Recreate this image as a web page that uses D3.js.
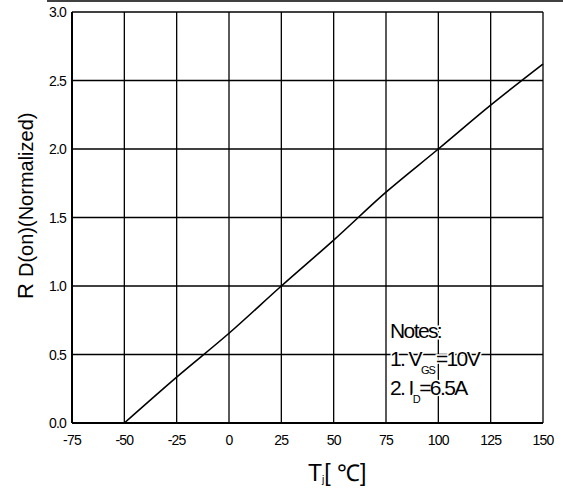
<!DOCTYPE html>
<html><head><meta charset="utf-8">
<script src="https://cdn.jsdelivr.net/npm/d3@7"></script>
<style>body{margin:0;background:#fff}svg{display:block;font-family:"Liberation Sans",Arial,sans-serif}</style>
</head><body>
<script>
const tempC = [-50, -25, 0, 25, 50, 75, 100, 125, 150];
const rdsNorm = [0.0, 0.335, 0.655, 1.0, 1.335, 1.685, 2.0, 2.32, 2.62];
const xTicks = [-75, -50, -25, 0, 25, 50, 75, 100, 125, 150];
const yTicks = [0.0, 0.5, 1.0, 1.5, 2.0, 2.5, 3.0];

const W = 563, H = 489;
const svg = d3.select("body").append("svg").attr("width", W).attr("height", H);
const x = d3.scaleLinear().domain([-75, 150]).range([72, 543]);
const y = d3.scaleLinear().domain([0, 3]).range([423, 12]);

// top border line
svg.append("line").attr("x1", 47).attr("x2", W).attr("y1", 1).attr("y2", 1)
  .attr("stroke", "#000").attr("stroke-width", 1.5);

// grid
const g = svg.append("g");
g.selectAll(".vx").data(xTicks).join("line")
  .attr("x1", d => x(d)).attr("x2", d => x(d)).attr("y1", y(3)).attr("y2", y(0))
  .attr("stroke", "#000").attr("stroke-width", 1.3);
g.selectAll(".hy").data(yTicks).join("line")
  .attr("x1", x(-75)).attr("x2", x(150)).attr("y1", d => y(d)).attr("y2", d => y(d))
  .attr("stroke", "#000").attr("stroke-width", 1.3);
svg.append("line").attr("x1", x(-75)).attr("x2", x(-75)).attr("y1", y(3)).attr("y2", y(0)).attr("stroke", "#000").attr("stroke-width", 2);
svg.append("line").attr("x1", x(-75)).attr("x2", x(150)).attr("y1", y(0)).attr("y2", y(0)).attr("stroke", "#000").attr("stroke-width", 2);

// tick labels
svg.selectAll(".xl").data(xTicks).join("text")
  .attr("x", d => x(d)).attr("y", 445).attr("text-anchor", "middle")
  .attr("font-size", 14).attr("letter-spacing", -0.8).text(d => d);
svg.selectAll(".yl").data(yTicks).join("text")
  .attr("x", 66).attr("y", d => y(d) + 5).attr("text-anchor", "end")
  .attr("font-size", 14).attr("letter-spacing", -0.8).text(d => d.toFixed(1));

// curve
svg.append("path").datum(tempC.map((t, i) => [t, rdsNorm[i]]))
  .attr("d", d3.line().x(d => x(d[0])).y(d => y(d[1])).curve(d3.curveMonotoneX))
  .attr("fill", "none").attr("stroke", "#000").attr("stroke-width", 1.6);

// notes
const notes = svg.append("g").attr("font-size", 21).attr("letter-spacing", -1.6)
  .attr("stroke", "#fff").attr("stroke-width", 3).attr("paint-order", "stroke").attr("fill", "#000");
notes.append("text").attr("x", 390).attr("y", 338).text("Notes:");
const n1 = notes.append("text").attr("x", 390).attr("y", 366);
n1.append("tspan").text("1. V");
n1.append("tspan").attr("font-size", 11).attr("letter-spacing", -1).attr("dy", 8).text("GS");
n1.append("tspan").attr("dy", -8).attr("dx", 1).text("=10V");
const n2 = notes.append("text").attr("x", 390).attr("y", 395);
n2.append("tspan").text("2. I");
n2.append("tspan").attr("font-size", 11).attr("dy", 8).text("D");
n2.append("tspan").attr("dy", -8).text("=6.5A");

// x label
const xl = svg.append("text").attr("x", 308).attr("y", 481)
  .attr("font-size", 23);
xl.append("tspan").text("T");
xl.append("tspan").attr("font-size", 10).attr("dy", 2).text("j");
xl.append("tspan").attr("dy", -2).text("[ ℃]");

// y label
const yl = svg.append("text").attr("transform", "translate(33,299) rotate(-90)")
  .attr("text-anchor", "start");
yl.append("tspan").attr("font-size", 22).text("R ");
yl.append("tspan").attr("font-size", 20).text("D(on)(Normalized)");
</script>
</body></html>
